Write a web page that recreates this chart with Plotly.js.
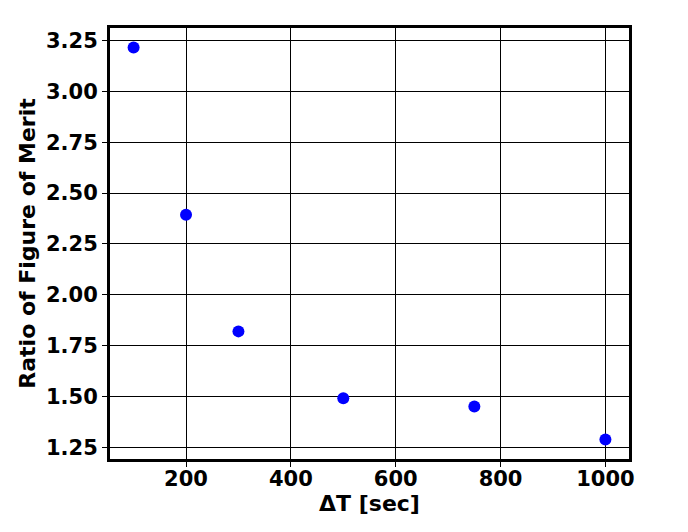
<!DOCTYPE html>
<html><head><meta charset="utf-8">
<script src="https://cdn.plot.ly/plotly-3.0.1.min.js"></script>
<style>html,body{margin:0;padding:0;background:#fff}</style>
</head><body><div id="chart" style="width:688px;height:532px"></div>
<script>
const deltaT = [100, 200, 300, 500, 750, 1000];
const ratioFoM = [3.215, 2.393, 1.820, 1.491, 1.451, 1.289];
const yTicks = [1.25, 1.50, 1.75, 2.00, 2.25, 2.50, 2.75, 3.00, 3.25];
const xTicks = [200, 400, 600, 800, 1000];

const font = {family: 'DejaVu Sans', size: 21, color: '#000', weight: 'bold'};
const titleFont = Object.assign({}, font, {size: 22});
const trace = {
  x: deltaT, y: ratioFoM, type: 'scatter', mode: 'markers',
  marker: {color: '#0000ff', size: 12}
};
const axisCommon = {
  showline: true, linecolor: '#000', linewidth: 3, mirror: true,
  showgrid: true, gridcolor: '#000', gridwidth: 1,
  ticks: 'outside', ticklen: 5, tickwidth: 1, tickcolor: '#000',
  zeroline: false, tickfont: font
};
const layout = {
  width: 688, height: 532,
  margin: {l: 110, r: 59, t: 28, b: 73},
  paper_bgcolor: '#fff', plot_bgcolor: '#fff',
  showlegend: false,
  xaxis: Object.assign({}, axisCommon, {
    range: [55, 1045], tickvals: xTicks, ticktext: xTicks.map(String),
    ticklabelstandoff: -6,
    title: {text: 'ΔT [sec]', font: titleFont, standoff: 1}
  }),
  yaxis: Object.assign({}, axisCommon, {
    range: [1.1927, 3.3113], tickvals: yTicks, ticktext: yTicks.map(v => v.toFixed(2)),
    title: {text: 'Ratio of Figure of Merit', font: titleFont, standoff: 5}
  })
};
Plotly.newPlot('chart', [trace], layout, {displayModeBar: false, staticPlot: true});
</script></body></html>
